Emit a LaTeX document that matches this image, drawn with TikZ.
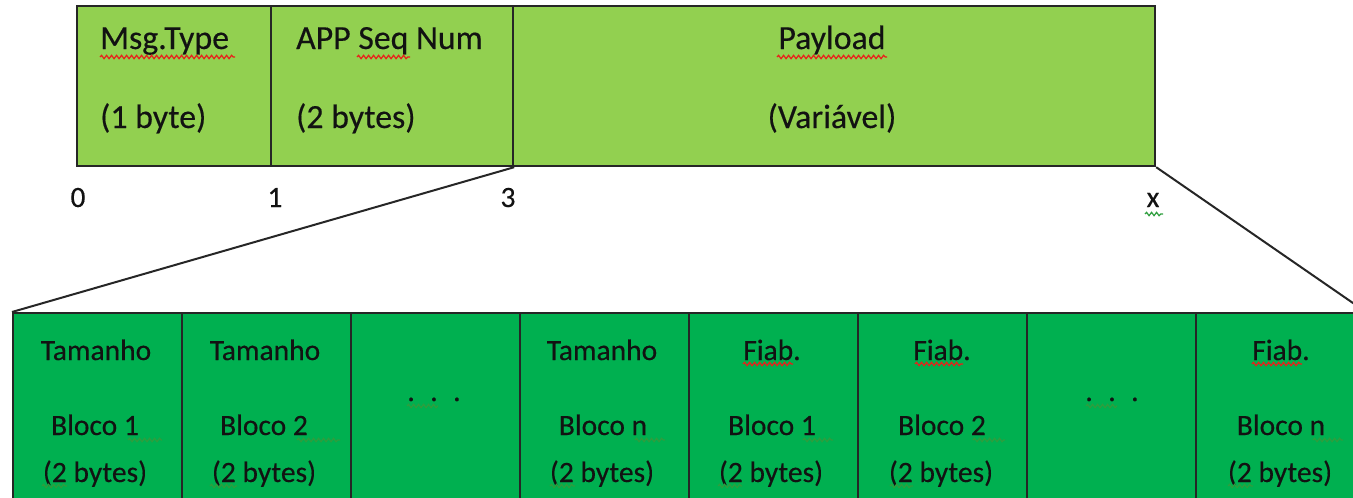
\documentclass[tikz,border=0pt]{standalone}
\usepackage{fontspec}
\setmainfont{Carlito}[FakeBold=0.35]
\usetikzlibrary{decorations.pathmorphing}

\definecolor{lightgreen}{HTML}{92D050}
\definecolor{darkgreen}{HTML}{00B050}
\definecolor{edge}{HTML}{262626}
\definecolor{ink}{HTML}{121212}
\definecolor{spellred}{HTML}{E8201A}
\definecolor{grammargreen}{HTML}{2E9E3E}

\tikzset{
  field/.style={draw=edge, line width=2.4pt, fill=lightgreen, inner sep=0pt, minimum height=160pt},
  cell/.style={draw=edge, line width=2pt, fill=darkgreen, inner sep=0pt, minimum width=169pt, minimum height=260pt},
  toptext/.style={font=\fontsize{33.8}{40}\selectfont, text=ink, inner sep=0pt},
  celltext/.style={font=\fontsize{29.5}{36}\selectfont, text=ink, inner sep=0pt, anchor=base},
  offsetlabel/.style={font=\fontsize{29.5}{36}\selectfont, text=ink, inner sep=0pt, anchor=base},
  zoomline/.style={draw=edge, line width=2pt},
  wavy/.style={line width=1.2pt, decorate, decoration={snake, segment length=5pt, amplitude=1.7pt}},
  spellmark/.style={wavy, draw=spellred},
  grammarmark/.style={wavy, draw=grammargreen},
}

\begin{document}
\begin{tikzpicture}[x=1pt, y=-1pt]
\useasboundingbox (0,0) rectangle (1353,498);
\clip (0,0) rectangle (1353,498);

% message header fields
\node[field, minimum width=194pt] (mt)  at (174,86) {};
\node[field, minimum width=242pt] (asn) at (392,86) {};
\node[field, minimum width=642pt] (pl)  at (834,86) {};

\node[toptext, anchor=base west] (mtname)  at (100,49)  {Msg.Type};
\node[toptext, anchor=base west] (mtsize)  at (100,128) {(1 byte)};
\node[toptext, anchor=base west] (asnname) at (296,49)  {APP Seq Num};
\node[toptext, anchor=base west] (asnsize) at (296,128) {(2 bytes)};
\node[toptext, anchor=base] (plname) at (832,49)  {Payload};
\node[toptext, anchor=base] (plsize) at (832,128) {(Variável)};

% byte offsets
\node[offsetlabel] (o0) at (78,207)   {0};
\node[offsetlabel] (o1) at (275,207)  {1};
\node[offsetlabel] (o3) at (508,207)  {3};
\node[offsetlabel] (ox) at (1153,207) {x};

% payload blocks
\node[cell] (c1) at (97.5,443)   {};
\node[cell] (c2) at (266.5,443)  {};
\node[cell] (c3) at (435.5,443)  {};
\node[cell] (c4) at (604.5,443)  {};
\node[cell] (c5) at (773.5,443)  {};
\node[cell] (c6) at (942.5,443)  {};
\node[cell] (c7) at (1111.5,443) {};
\node[cell] (c8) at (1280.5,443) {};

\node[celltext] (c1a) at (96,360) {Tamanho};
\node[celltext] (c1b) at (95,435) {Bloco 1};
\node[celltext] (c1c) at (95,482) {(2 bytes)};
\node[celltext] (c2a) at (265,360) {Tamanho};
\node[celltext] (c2b) at (264,435) {Bloco 2};
\node[celltext] (c2c) at (264,482) {(2 bytes)};
\node[celltext] (c3a) at (434,401) {.\hspace{15.5pt}.\hspace{15.5pt}.};
\node[celltext] (c4a) at (602,360) {Tamanho};
\node[celltext] (c4b) at (603,435) {Bloco n};
\node[celltext] (c4c) at (602,482) {(2 bytes)};
\node[celltext] (c5a) at (772,360) {Fiab.};
\node[celltext] (c5b) at (772,435) {Bloco 1};
\node[celltext] (c5c) at (771,482) {(2 bytes)};
\node[celltext] (c6a) at (942,360) {Fiab.};
\node[celltext] (c6b) at (942,435) {Bloco 2};
\node[celltext] (c6c) at (941,482) {(2 bytes)};
\node[celltext] (c7a) at (1112,401) {.\hspace{15.5pt}.\hspace{15.5pt}.};
\node[celltext] (c8a) at (1281,360) {Fiab.};
\node[celltext] (c8b) at (1281,435) {Bloco n};
\node[celltext] (c8c) at (1280,482) {(2 bytes)};

% zoom lines from the payload to its blocks
\draw[zoomline] (asn.south east) -- (c1.north west);
\draw[zoomline] (pl.south east) -- (c8.north east);

% proofing underlines
\draw[spellmark] (100,57) -- (235,57);
\draw[spellmark] (357,57) -- (410,57);
\draw[spellmark] (777,57) -- (887,57);
\draw[spellmark] (743,364) -- (793,364);
\draw[spellmark] (915,364) -- (963,364);
\draw[spellmark] (1252,364) -- (1302,364);
\draw[grammarmark] (1145,214) -- (1163,214);
\draw[grammarmark] (128,440) -- (162,440);
\draw[grammarmark] (297,440) -- (340,440);
\draw[grammarmark] (635,440) -- (665,440);
\draw[grammarmark] (803,440) -- (833,440);
\draw[grammarmark] (973,440) -- (1005,440);
\draw[grammarmark] (1313,440) -- (1343,440);
\draw[grammarmark] (42,486) -- (67,486);
\draw[grammarmark] (210,486) -- (237,486);
\draw[grammarmark] (550,486) -- (575,486);
\draw[grammarmark] (718,486) -- (742,486);
\draw[grammarmark] (890,486) -- (913,486);
\draw[grammarmark] (1228,486) -- (1253,486);
\draw[grammarmark] (407,406) -- (438,406);
\draw[grammarmark] (1086,406) -- (1117,406);
\end{tikzpicture}
\end{document}
